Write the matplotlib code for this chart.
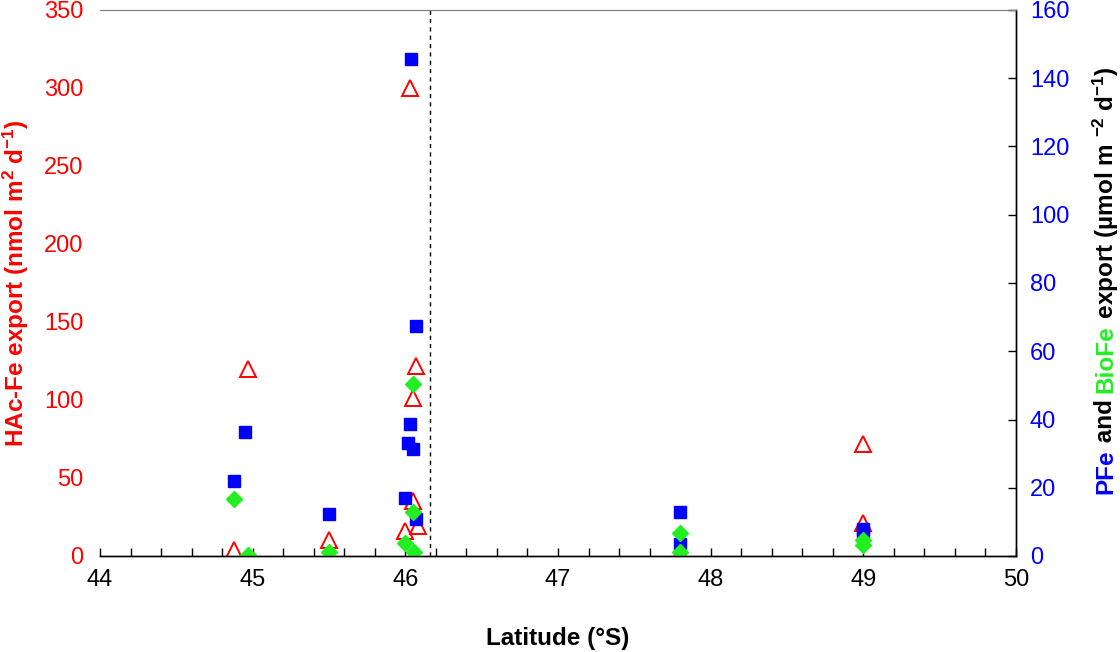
import numpy as np
import matplotlib
matplotlib.use('Agg')
import matplotlib.pyplot as plt
from matplotlib.ticker import MultipleLocator

plt.rcParams['font.family'] = ['Liberation Sans', 'DejaVu Sans']
plt.rcParams['mathtext.fontset'] = 'custom'
plt.rcParams['mathtext.rm'] = 'Liberation Sans:bold'
plt.rcParams['mathtext.it'] = 'Liberation Sans:bold'
plt.rcParams['mathtext.bf'] = 'Liberation Sans:bold'

# HAc-Fe export (nmol m-2 d-1), left axis
hac_lat = [44.88, 44.97, 45.50, 46.03, 46.07, 46.05, 46.05, 46.00, 46.08, 47.80, 49.00, 49.00]
hac_val = [4, 120, 10, 300, 122, 101, 35, 16, 19, 2, 72, 21]

# PFe export (umol m-2 d-1), right axis
pfe_lat = [44.88, 44.95, 45.50, 46.04, 46.07, 46.03, 46.02, 46.05, 46.00, 46.07, 47.80, 47.80, 49.00, 49.00]
pfe_val = [22, 36.4, 12.3, 145.7, 67.4, 38.7, 33.1, 31.4, 17, 10.8, 12.9, 3.5, 8, 7]

# BioFe export (umol m-2 d-1), right axis
bio_lat = [44.88, 44.97, 45.50, 46.05, 46.05, 46.00, 46.06, 47.80, 47.80, 49.00, 49.00]
bio_val = [16.7, 0.3, 1.2, 50.4, 12.9, 3.8, 1.2, 6.7, 1.2, 4.7, 3.2]

front_lat = 46.16  # dashed line

red = '#ff0000'
blue = '#0000ff'
green = '#22ee22'

fig = plt.figure(figsize=(11.2, 6.52), dpi=100)
ax = fig.add_axes([100 / 1120, 1 - 556 / 652, 916 / 1120, 546 / 652])
ax2 = ax.twinx()

ax.plot(hac_lat, hac_val, '^', ms=11.5, mfc='none', mec=red, mew=1.4, ls='none')
ax.axvline(front_lat, color='black', ls=(0, (3, 3)), lw=1)

ax2.plot(pfe_lat, pfe_val, 's', ms=8.5, color=blue, ls='none')
ax2.plot(bio_lat, bio_val, 'D', ms=8.5, color=green, ls='none')

ax.set_xlim(44, 50)
ax.set_ylim(0, 350)
ax2.set_ylim(0, 160)
ax.xaxis.set_major_locator(MultipleLocator(1))
ax.xaxis.set_minor_locator(MultipleLocator(0.2))
ax.yaxis.set_major_locator(MultipleLocator(50))
ax2.yaxis.set_major_locator(MultipleLocator(20))

ax.tick_params(axis='x', which='both', direction='in', length=6, width=1, labelsize=17, pad=9)
ax.tick_params(axis='y', direction='in', length=0, labelsize=17, labelcolor=red, pad=12, right=False)
ax2.tick_params(axis='y', direction='in', length=6, width=1, labelsize=17, labelcolor=blue, pad=10)

for a in (ax, ax2):
    a.spines['top'].set_color('#808080')
    a.spines['left'].set_visible(False)
    for s in ('bottom', 'right'):
        a.spines[s].set_linewidth(1)

ax.set_xlabel('Latitude (°S)', fontsize=17.5, fontweight='bold', labelpad=26)
fig.text(16 / 1120, 1 - 283 / 652, 'HAc-Fe export (nmol m$^{2}$ d$^{-1}$)',
         rotation=90, ha='center', va='center', fontsize=17.5, fontweight='bold', color=red)

# multi-coloured right label, stacked bottom to top
parts = [('PFe', blue), (' and ', 'black'), ('BioFe', green),
         (' export (µmol m $^{-2}$ d$^{-1}$)', 'black')]
fig.canvas.draw()
renderer = fig.canvas.get_renderer()
texts = []
total = 0
for s, c in parts:
    t = fig.text(0, 0, s, rotation=90, ha='center', va='bottom', fontsize=17.5,
                 fontweight='bold', color=c)
    h = t.get_window_extent(renderer).height
    texts.append((t, h))
    total += h
y = (1 - 280 / 652) * fig.bbox.height - total / 2
for t, h in texts:
    t.set_position((1106 / 1120, y / fig.bbox.height))
    y += h

fig.savefig('out.png', dpi=100)
